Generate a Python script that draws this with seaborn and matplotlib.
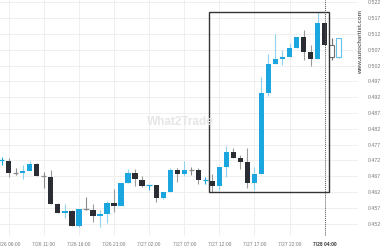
import numpy as np
import pandas as pd
import matplotlib
matplotlib.use("Agg")
import matplotlib.pyplot as plt
import seaborn as sns

# ---- data (hourly candles) ----
opens = [0.4719,0.4719,0.4681,0.4681,0.4688,0.4709,0.4671,0.4669,0.4582,0.4555,
         0.4560,0.4514,0.4566,0.4564,0.4546,0.4551,0.4585,0.4577,0.4650,0.4681,
         0.4658,0.4641,0.4642,0.4602,0.4621,0.4690,0.4676,0.4690,0.4690,0.4656,
         0.4655,0.4639,0.4700,0.4748,0.4728,0.4716,0.4648,0.4677,0.4934,0.5024,
         0.5040,0.5048,0.5074,0.5111,0.5064,0.5041,0.5153,0.5085,0.5048]
closes = [0.4720,0.4681,0.4681,0.4688,0.4709,0.4671,0.4671,0.4583,0.4555,0.4560,
          0.4514,0.4567,0.4566,0.4546,0.4551,0.4585,0.4577,0.4650,0.4681,0.4661,
          0.4640,0.4642,0.4602,0.4621,0.4690,0.4676,0.4690,0.4690,0.4658,0.4657,
          0.4639,0.4700,0.4748,0.4729,0.4716,0.4648,0.4677,0.4934,0.5024,0.5040,
          0.5048,0.5074,0.5111,0.5064,0.5041,0.5153,0.5085,0.5048,0.5108]
highs = [0.4732,0.4727,0.4695,0.4706,0.4719,0.4713,0.4685,0.4690,0.4585,0.4582,
         0.4564,0.4567,0.4606,0.4582,0.4564,0.4592,0.4630,0.4650,0.4692,0.4692,
         0.4672,0.4643,0.4642,0.4621,0.4695,0.4695,0.4717,0.4700,0.4696,0.4669,
         0.4677,0.4700,0.4766,0.4758,0.4737,0.4759,0.4700,0.4985,0.5055,0.5120,
         0.5069,0.5091,0.5111,0.5132,0.5085,0.5188,0.5155,0.5107,0.5108]
lows = [0.4706,0.4669,0.4674,0.4661,0.4688,0.4671,0.4632,0.4583,0.4553,0.4537,
        0.4514,0.4511,0.4563,0.4527,0.4511,0.4522,0.4556,0.4577,0.4650,0.4639,
        0.4637,0.4627,0.4590,0.4598,0.4621,0.4653,0.4672,0.4674,0.4646,0.4646,
        0.4620,0.4627,0.4669,0.4729,0.4693,0.4633,0.4627,0.4677,0.4924,0.5024,
        0.5022,0.5048,0.5074,0.5037,0.5019,0.5041,0.5085,0.5037,0.5043]
n_projected = 2  # last candles drawn hollow

tick_index = [1, 6, 11, 16, 21, 26, 31, 36, 41, 46]
tick_labels = ["7/26 06:00", "7/26 11:00", "7/26 16:00", "7/26 21:00", "7/27 02:00",
               "7/27 07:00", "7/27 12:00", "7/27 17:00", "7/27 22:00", "7/28 04:00"]
y_ticks = [0.452, 0.457, 0.462, 0.467, 0.472, 0.477, 0.482, 0.487, 0.492,
           0.497, 0.502, 0.507, 0.512, 0.517, 0.522]

# highlighted pattern box (candle index range, price range) and current-time marker
box_start, box_end = 29.53, 46.67
box_low, box_high = 0.4621, 0.5190
now_index = 46

df = pd.DataFrame({"o": opens, "h": highs, "l": lows, "c": closes})
df["i"] = np.arange(len(df))

BLUE = "#1ca6e0"
BLUE_WICK = "#8fd2f0"
DARK = "#2b2d34"
GRAY_WICK = "#9a9a9a"

sns.set_theme(style="white")
plt.rcParams['font.family'] = ['Liberation Sans', 'DejaVu Sans']

fig = plt.figure(figsize=(3.8, 2.5), dpi=100)
ax = fig.add_axes([0.0, 0.056, 0.942, 0.944])
ax.set_xlim(-0.242, 50.75)
ax.set_ylim(0.44814, 0.5227)

# grid
for t in y_ticks:
    ax.axhline(t, color="#efefef", lw=0.7, zorder=0)
for t in tick_index[:-1]:
    ax.axvline(t, color="#efefef", lw=0.7, zorder=0)

w = 0.75
nproj_start = len(df) - n_projected
for _, r in df.iterrows():
    i = r["i"]
    up = r["c"] > r["o"]
    doji = abs(r["c"] - r["o"]) < 0.00015
    hollow = i >= nproj_start
    if hollow:
        col = "#62c2ec" if up else "#707070"
        ax.vlines(i, r["l"], r["h"], color=col, lw=0.8, zorder=2)
        ax.bar(i, abs(r["c"] - r["o"]), bottom=min(r["o"], r["c"]), width=w,
               facecolor="white", edgecolor=col, linewidth=0.8, zorder=3)
        continue
    if doji:
        col = BLUE if up else "#8a8a8a"
        ax.vlines(i, r["l"], r["h"], color=col, lw=0.8, zorder=2)
        ax.hlines(r["c"], i - w / 2, i + w / 2, color=col, lw=0.9, zorder=3)
        continue
    wick = BLUE_WICK if up else GRAY_WICK
    body = BLUE if up else DARK
    ax.vlines(i, r["l"], r["h"], color=wick, lw=0.8, zorder=2)
    ax.bar(i, abs(r["c"] - r["o"]), bottom=min(r["o"], r["c"]), width=w,
           color=body, linewidth=0, zorder=3)

# pattern rectangle
ax.add_patch(plt.Rectangle((box_start, box_low), box_end - box_start, box_high - box_low,
                           fill=False, edgecolor="#333333", lw=1.0, zorder=4))
# current time line
ax.axvline(now_index, color="#555555", lw=0.7, ls=(0, (1, 1)), zorder=5)

ax.set_yticks(y_ticks)
ax.set_yticklabels([f"{t:.3f}" for t in y_ticks], fontsize=3.8, color="#7a7a7a")
ax.yaxis.tick_right()
ax.tick_params(axis="y", length=0, pad=7)
ax.set_xticks(tick_index)
ax.set_xticklabels(tick_labels, fontsize=3.5, color="#7a7a7a")
ax.tick_params(axis="x", length=0, pad=4)
for lbl in ax.get_xticklabels():
    if lbl.get_text() == "7/28 04:00":
        lbl.set_color("#333333")
        lbl.set_fontweight("bold")
for s in ax.spines.values():
    s.set_visible(False)

fig.text(361 / 380, 1 - 42.5 / 250, "www.autochartist.com", rotation=90, ha="center",
         va="center", fontsize=4.3, color="#666666", fontweight="bold")
fig.text(180 / 380, 1 - 122 / 250, "What2Trade", ha="center", va="center",
         fontsize=8.5, color="#e6e6e6", fontweight="bold", zorder=0)

fig.savefig("out.png", dpi=100)
